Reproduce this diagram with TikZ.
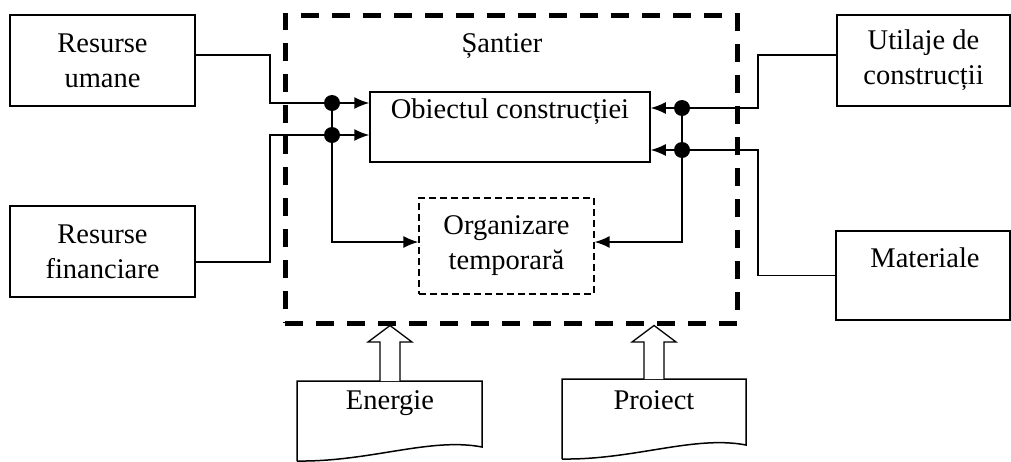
\documentclass[tikz,border=0pt]{standalone}
\usepackage{fontspec}
\setmainfont{Liberation Serif}
\usetikzlibrary{arrows.meta,calc}
\begin{document}
\begin{tikzpicture}[x=1pt,y=-1pt,
  every node/.style={font=\fontsize{28.5}{35}\selectfont, inner sep=0pt, align=center},
  box/.style={draw, line width=1.5pt},
  dbox/.style={draw, line width=1.3pt, dash pattern=on 7pt off 4pt},
  sbox/.style={draw, line width=5pt, dash pattern=on 18pt off 13pt},
  conn/.style={line width=1.5pt, -{Latex[length=15pt,width=12pt]}},
  dot/.style={circle, fill=black, minimum size=16pt, inner sep=0pt},
  hollow/.style={draw, fill=white, line width=1.3pt, line join=miter}]
\useasboundingbox (0,0) rectangle (1011,461);

% main site frame
\node[sbox, minimum width=452pt, minimum height=308pt] (SA) at (511,169) {};
\node (SAt) at (502,46) {Șantier};

% outer boxes
\node[box, minimum width=185pt, minimum height=91pt] (RU) at (102.5,60.5) {Resurse\\umane};
\node[box, minimum width=185pt, minimum height=91pt] (RF) at (102.5,251.5) {Resurse\\financiare};
\node[box, minimum width=173pt, minimum height=91pt] (UT) at (923.5,60.5) {Utilaje de\\construcții};
\node[box, minimum width=174pt, minimum height=89pt] (MAT) at (923,275.5) {};
\node (MATt) at (925,258) {Materiale};

% inner boxes
\node[box, minimum width=280pt, minimum height=70pt] (OB) at (510,127) {};
\node (OBt) at (510,112) {Obiectul construcției};
\node[dbox, minimum width=175pt, minimum height=96pt] (OT) at (506.5,246) {Organizare\\temporară};

% junction coordinates
\coordinate (L1) at (270,103);
\coordinate (L2) at (270,135);
\coordinate (D1) at (332,103);
\coordinate (D2) at (332,135);
\coordinate (D3) at (332,242);
\coordinate (R1) at (758,108);
\coordinate (R2) at (758,150);
\coordinate (E1) at (682,108);
\coordinate (E2) at (682,150);
\coordinate (E3) at (682,242);

% connectors
\draw[conn] ([yshift=5.5pt]RU.east) -| (L1) -- (OB.west |- L1);
\draw[conn] ([yshift=-10.5pt]RF.east) -| (L2) -- (OB.west |- L2);
\draw[conn] (D1) -- (D3) -- (OT.west |- D3);
\draw[conn] ([yshift=5.5pt]UT.west) -| (R1) -- (OB.east |- R1);
\draw[conn] (MAT.west) -| (R2) -- (OB.east |- R2);
\draw[conn] (E1) -- (E3) -- (OT.east |- E3);
\foreach \p in {D1,D2,E1,E2} \node[dot] at (\p) {};

% documents
\draw[box] (297,461) -- (297,381) -- (482,381) -- (482,447)
  .. controls (430,437) and (370,462) .. (297,461);
\node (EN) at (390,403) {Energie};
\draw[box] (562,459) -- (562,379) -- (746,379) -- (746,445)
  .. controls (694,435) and (634,460) .. (562,459);
\node (PR) at (654,400) {Proiect};

% hollow arrows
\coordinate (EA) at (390,381);
\coordinate (PA) at (654,379);
\draw[hollow] ($(EA)+(-10,0)$) -- ($(EA)+(-10,-39)$) -- ($(EA)+(-22,-39)$) -- (EA |- SA.south)
  -- ($(EA)+(22,-39)$) -- ($(EA)+(10,-39)$) -- ($(EA)+(10,0)$);
\draw[hollow] ($(PA)+(-10,0)$) -- ($(PA)+(-10,-37)$) -- ($(PA)+(-22,-37)$) -- (PA |- SA.south)
  -- ($(PA)+(22,-37)$) -- ($(PA)+(10,-37)$) -- ($(PA)+(10,0)$);
\end{tikzpicture}
\end{document}
